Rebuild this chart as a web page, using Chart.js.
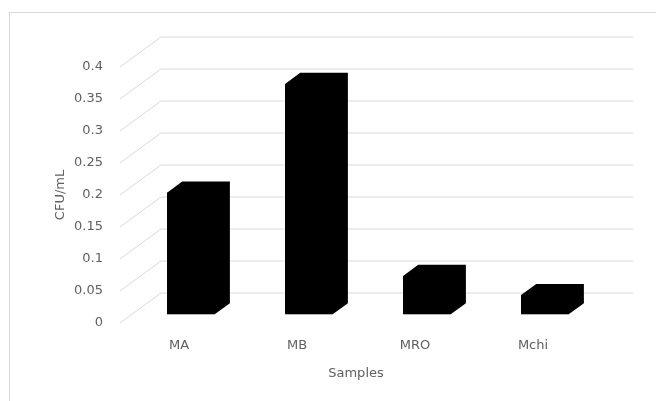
<!DOCTYPE html>
<html>
<head>
<meta charset="utf-8">
<script src="https://cdn.jsdelivr.net/npm/chart.js@4/dist/chart.umd.min.js"></script>
<style>
  html, body { margin: 0; padding: 0; background: #ffffff; }
  #wrap { width: 656px; height: 401px; }
</style>
</head>
<body>
<div id="wrap"><canvas id="chart" width="656" height="401"></canvas></div>
<script>
// Sample categories and measured CFU/mL
const categories = ['MA', 'MB', 'MRO', 'Mchi'];
const cfuValues = [0.19, 0.36, 0.06, 0.03];
const yTickLabels = ['0', '0.05', '0.1', '0.15', '0.2', '0.25', '0.3', '0.35', '0.4'];

// Oblique 3D projection: how far the back wall sits from the front plane
const FLOOR_DX = 41, FLOOR_DY = -30;
const BAR_FRONT = 0.29;  // bar front face position as fraction of floor depth
const BAR_DEPTH = 0.37;  // bar depth as fraction of floor depth
const GRID_COLOR = '#d9d9d9';
const TEXT_COLOR = '#606060';
const FONT = { family: 'DejaVu Sans', size: 13 };

const box3d = {
  id: 'box3d',
  beforeDraw(chart) {
    const ctx = chart.ctx;
    ctx.save();
    ctx.strokeStyle = GRID_COLOR;
    ctx.lineWidth = 1;
    ctx.strokeRect(9.5, 12.5, 700, 500);
    ctx.restore();
  },
  beforeDatasetsDraw(chart) {
    const ctx = chart.ctx;
    const area = chart.chartArea;
    const y = chart.scales.y;
    ctx.save();
    // side-wall diagonals and back-wall gridlines
    ctx.strokeStyle = GRID_COLOR;
    ctx.lineWidth = 1;
    y.ticks.forEach(t => {
      const yf = y.getPixelForValue(t.value);
      ctx.beginPath();
      ctx.moveTo(area.left, yf);
      ctx.lineTo(area.left + FLOOR_DX, yf + FLOOR_DY);
      ctx.lineTo(area.right + FLOOR_DX, yf + FLOOR_DY);
      ctx.stroke();
    });
    // full bar silhouette (front, top and right side faces)
    const fx = FLOOR_DX * BAR_FRONT, fy = FLOOR_DY * BAR_FRONT;
    const ddx = FLOOR_DX * BAR_DEPTH, ddy = FLOOR_DY * BAR_DEPTH;
    ctx.fillStyle = '#000000';
    chart.getDatasetMeta(0).data.forEach(el => {
      const p = el.getProps(['x', 'y', 'base', 'width'], true);
      const l = p.x - p.width / 2 + fx, r = p.x + p.width / 2 + fx;
      const t = p.y + fy, b = p.base + fy;
      ctx.beginPath();
      ctx.moveTo(l, b);
      ctx.lineTo(l, t);
      ctx.lineTo(l + ddx, t + ddy);
      ctx.lineTo(r + ddx, t + ddy);
      ctx.lineTo(r + ddx, b + ddy);
      ctx.lineTo(r, b);
      ctx.closePath();
      ctx.fill();
    });
    // front faces are drawn by Chart.js, shifted onto the bar's front plane
    ctx.translate(fx, fy);
  },
  afterDatasetsDraw(chart) {
    chart.ctx.restore();
  }
};

new Chart(document.getElementById('chart'), {
  type: 'bar',
  data: {
    labels: categories,
    datasets: [{
      data: cfuValues,
      backgroundColor: '#000000',
      borderWidth: 0,
      categoryPercentage: 1,
      barPercentage: 0.404
    }]
  },
  options: {
    responsive: false,
    animation: false,
    layout: { padding: { left: 0, right: 64, top: 67, bottom: 0 } },
    plugins: { legend: { display: false }, tooltip: { enabled: false } },
    scales: {
      x: {
        grid: { display: false, drawTicks: false },
        border: { display: false },
        ticks: { color: TEXT_COLOR, font: FONT, padding: 15 },
        title: { display: true, text: 'Samples', color: TEXT_COLOR, font: FONT, padding: { top: 0, bottom: 20 } },
        afterFit(s) { s.height = 78; }
      },
      y: {
        min: 0,
        max: 0.4,
        grid: { display: false, drawTicks: false },
        border: { display: false },
        ticks: {
          stepSize: 0.05,
          color: TEXT_COLOR,
          font: FONT,
          padding: 17,
          callback: (v, i) => yTickLabels[i]
        },
        title: { display: true, text: 'CFU/mL', color: TEXT_COLOR, font: FONT, padding: { top: 53, bottom: 0 } },
        afterFit(s) { s.width = 120; }
      }
    }
  },
  plugins: [box3d]
});
</script>
</body>
</html>
